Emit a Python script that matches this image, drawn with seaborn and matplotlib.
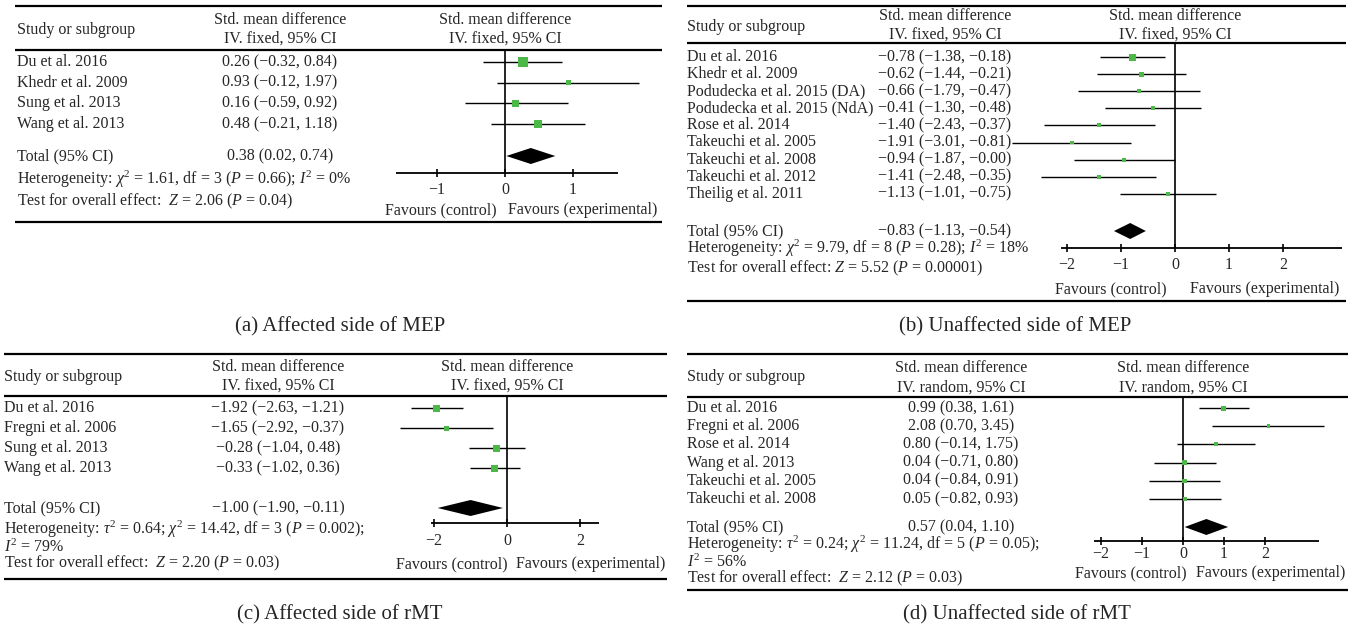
import matplotlib.pyplot as plt
import seaborn as sns

# ---------------- data ----------------
# (a) Affected side of MEP
studies_a = ["Du et al. 2016", "Khedr et al. 2009", "Sung et al. 2013", "Wang et al. 2013"]
est_a = [0.26, 0.93, 0.16, 0.48]
low_a = [-0.32, -0.12, -0.59, -0.21]
high_a = [0.84, 1.97, 0.92, 1.18]
ci_text_a = ["0.26 (\u22120.32, 0.84)", "0.93 (\u22120.12, 1.97)",
             "0.16 (\u22120.59, 0.92)", "0.48 (\u22120.21, 1.18)"]
total_a = [0.38, 0.02, 0.74]
total_text_a = "0.38 (0.02, 0.74)"
stats_a = [r"Heterogeneity: $\chi^2$ = 1.61, df = 3 ($P$ = 0.66); $I^2$ = 0%",
           r"Test for overall effect:  $Z$ = 2.06 ($P$ = 0.04)"]
ticks_a = [-1, 0, 1]

# (b) Unaffected side of MEP (values as drawn in the plot)
studies_b = ["Du et al. 2016", "Khedr et al. 2009", "Podudecka et al. 2015 (DA)",
             "Podudecka et al. 2015 (NdA)", "Rose et al. 2014", "Takeuchi et al. 2005",
             "Takeuchi et al. 2008", "Takeuchi et al. 2012", "Theilig et al. 2011"]
est_b = [-0.78, -0.62, -0.66, -0.41, -1.40, -1.91, -0.94, -1.41, -0.13]
low_b = [-1.38, -1.44, -1.79, -1.30, -2.43, -3.01, -1.87, -2.48, -1.01]
high_b = [-0.18, 0.21, 0.47, 0.48, -0.37, -0.81, 0.00, -0.35, 0.75]
ci_text_b = ["\u22120.78 (\u22121.38, \u22120.18)", "\u22120.62 (\u22121.44, \u22120.21)",
             "\u22120.66 (\u22121.79, \u22120.47)", "\u22120.41 (\u22121.30, \u22120.48)",
             "\u22121.40 (\u22122.43, \u22120.37)", "\u22121.91 (\u22123.01, \u22120.81)",
             "\u22120.94 (\u22121.87, \u22120.00)", "\u22121.41 (\u22122.48, \u22120.35)",
             "\u22121.13 (\u22121.01, \u22120.75)"]
total_b = [-0.83, -1.13, -0.54]
total_text_b = "\u22120.83 (\u22121.13, \u22120.54)"
stats_b = [r"Heterogeneity: $\chi^2$ = 9.79, df = 8 ($P$ = 0.28); $I^2$ = 18%",
           r"Test for overall effect: $Z$ = 5.52 ($P$ = 0.00001)"]
ticks_b = [-2, -1, 0, 1, 2]

# (c) Affected side of rMT
studies_c = ["Du et al. 2016", "Fregni et al. 2006", "Sung et al. 2013", "Wang et al. 2013"]
est_c = [-1.92, -1.65, -0.28, -0.33]
low_c = [-2.63, -2.92, -1.04, -1.02]
high_c = [-1.21, -0.37, 0.48, 0.36]
ci_text_c = ["\u22121.92 (\u22122.63, \u22121.21)", "\u22121.65 (\u22122.92, \u22120.37)",
             "\u22120.28 (\u22121.04, 0.48)", "\u22120.33 (\u22121.02, 0.36)"]
total_c = [-1.00, -1.90, -0.11]
total_text_c = "\u22121.00 (\u22121.90, \u22120.11)"
stats_c = [r"Heterogeneity: $\tau^2$ = 0.64; $\chi^2$ = 14.42, df = 3 ($P$ = 0.002);",
           r"$I^2$ = 79%",
           r"Test for overall effect:  $Z$ = 2.20 ($P$ = 0.03)"]
ticks_c = [-2, 0, 2]

# (d) Unaffected side of rMT
studies_d = ["Du et al. 2016", "Fregni et al. 2006", "Rose et al. 2014", "Wang et al. 2013",
             "Takeuchi et al. 2005", "Takeuchi et al. 2008"]
est_d = [0.99, 2.08, 0.80, 0.04, 0.04, 0.05]
low_d = [0.38, 0.70, -0.14, -0.71, -0.84, -0.82]
high_d = [1.61, 3.45, 1.75, 0.80, 0.91, 0.93]
ci_text_d = ["0.99 (0.38, 1.61)", "2.08 (0.70, 3.45)", "0.80 (\u22120.14, 1.75)",
             "0.04 (\u22120.71, 0.80)", "0.04 (\u22120.84, 0.91)", "0.05 (\u22120.82, 0.93)"]
total_d = [0.57, 0.04, 1.10]
total_text_d = "0.57 (0.04, 1.10)"
stats_d = [r"Heterogeneity: $\tau^2$ = 0.24; $\chi^2$ = 11.24, df = 5 ($P$ = 0.05);",
           r"$I^2$ = 56%",
           r"Test for overall effect:  $Z$ = 2.12 ($P$ = 0.03)"]
ticks_d = [-2, -1, 0, 1, 2]

captions = ["(a) Affected side of MEP", "(b) Unaffected side of MEP",
            "(c) Affected side of rMT", "(d) Unaffected side of rMT"]
methods = ["IV. fixed, 95% CI", "IV. fixed, 95% CI", "IV. fixed, 95% CI", "IV. random, 95% CI"]

# ---------------- layout (pixels) ----------------
W, H = 1348, 631
GREEN = "#4cb848"
FS = 11.5

panels = [
    dict(studies=studies_a, est=est_a, low=low_a, high=high_a, ci=ci_text_a, total=total_a,
         total_text=total_text_a, stats=stats_a, ticks=ticks_a, sq=[10, 5, 7, 8],
         x0=0, x1=674, left=15, right=662, top=6, head=50, bottom=222, xt=17, xc=280,
         zero=505, unit=68, axis=(-1.6, 1.66), axis_y=173, head_y=(20, 39), study_y=30,
         row0=62, step=20.7, total_y=156, stats_y=[179, 201], tick_y=190,
         fav_y=210, fav_x=(441, 583), cap=(340, 327)),
    dict(studies=studies_b, est=est_b, low=low_b, high=high_b, ci=ci_text_b, total=total_b,
         total_text=total_text_b, stats=stats_b, ticks=ticks_b, sq=[7, 5, 4, 4, 4, 3.5, 4, 4, 4],
         x0=674, x1=1348, left=687, right=1346, top=6, head=43, bottom=301, xt=687, xc=945,
         zero=1175, unit=54, axis=(-2.11, 3.09), axis_y=248, head_y=(16, 35), study_y=27,
         row0=57, step=17.1, total_y=231, stats_y=[248, 268], tick_y=265,
         fav_y=289, fav_x=(1111, 1265), cap=(1015, 327)),
    dict(studies=studies_c, est=est_c, low=low_c, high=high_c, ci=ci_text_c, total=total_c,
         total_text=total_text_c, stats=stats_c, ticks=ticks_c, sq=[7, 5, 7, 7],
         x0=0, x1=674, left=4, right=667, top=354, head=396, bottom=579, xt=4, xc=278,
         zero=507, unit=36.5, axis=(-2.08, 2.52), axis_y=523, head_y=(367, 386), study_y=377,
         row0=408, step=20, total_y=508, stats_y=[529, 547, 563], tick_y=541,
         fav_y=564, fav_x=(452, 591), cap=(340, 615)),
    dict(studies=studies_d, est=est_d, low=low_d, high=high_d, ci=ci_text_d, total=total_d,
         total_text=total_text_d, stats=stats_d, ticks=ticks_d, sq=[5, 3.5, 4, 5, 4.5, 4.5],
         x0=674, x1=1348, left=687, right=1348, top=354, head=397, bottom=590, xt=687, xc=961,
         zero=1183, unit=41, axis=(-2.17, 3.32), axis_y=541, head_y=(368, 388), study_y=377,
         row0=408, step=18.2, total_y=527, stats_y=[544, 562, 578], tick_y=554,
         fav_y=573, fav_x=(1131, 1271), cap=(1017, 615)),
]

sns.set_theme(style="white")
plt.rcParams['font.family'] = ['Liberation Serif', 'DejaVu Serif']
plt.rcParams['mathtext.fontset'] = 'custom'
plt.rcParams['mathtext.rm'] = 'Liberation Serif'
plt.rcParams['mathtext.it'] = 'Liberation Serif:italic'

fig = plt.figure(figsize=(W / 100, H / 100), dpi=100)
bg = fig.add_axes([0, 0, 1, 1])
bg.set_xlim(0, W)
bg.set_ylim(H, 0)
bg.axis('off')


def minus(v):
    return f"{v}".replace("-", "\u2212")


for p, cap, meth in zip(panels, captions, methods):
    # rules
    for y in (p['top'], p['head'], p['bottom']):
        bg.hlines(y, p['left'], p['right'], color='black', lw=1.6)

    # header
    bg.text(p['xt'], p['study_y'], "Study or subgroup", fontsize=FS, va='center')
    for xc in (p['xc'], p['zero']):
        bg.text(xc, p['head_y'][0], "Std. mean difference", fontsize=FS, ha='center', va='center')
        bg.text(xc, p['head_y'][1], meth, fontsize=FS, ha='center', va='center')

    rows = [p['row0'] + i * p['step'] for i in range(len(p['studies']))]
    for y, name, txt in zip(rows, p['studies'], p['ci']):
        bg.text(p['xt'], y, name, fontsize=FS, va='center')
        bg.text(p['xc'], y, txt, fontsize=FS, ha='center', va='center')
    bg.text(p['xt'], p['total_y'], "Total (95% CI)", fontsize=FS, va='center')
    bg.text(p['xc'], p['total_y'], p['total_text'], fontsize=FS, ha='center', va='center')
    for y, s in zip(p['stats_y'], p['stats']):
        bg.text(p['xt'], y, s, fontsize=FS, va='center')
    bg.text(p['fav_x'][0], p['fav_y'], "Favours (control)", fontsize=FS, ha='center', va='center')
    bg.text(p['fav_x'][1], p['fav_y'], "Favours (experimental)", fontsize=FS, ha='center', va='center')
    bg.text(p['cap'][0], p['cap'][1], cap, fontsize=15, ha='center', va='center')

    # forest axes, x in effect units, y in pixels
    ax = fig.add_axes([p['x0'] / W, 0, (p['x1'] - p['x0']) / W, 1])
    ax.set_xlim((p['x0'] - p['zero']) / p['unit'], (p['x1'] - p['zero']) / p['unit'])
    ax.set_ylim(H, 0)
    ax.axis('off')
    ax.patch.set_alpha(0)

    ax.vlines(0, p['head'], p['axis_y'], color='black', lw=1.2)
    ax.hlines(p['axis_y'], p['axis'][0], p['axis'][1], color='black', lw=1.3)
    ax.vlines(p['ticks'], p['axis_y'] - 4, p['axis_y'] + 4, color='black', lw=1.2)
    for t in p['ticks']:
        ax.text(t, p['tick_y'], minus(t), fontsize=FS, ha='center', va='center')

    ax.hlines(rows, p['low'], p['high'], color='black', lw=1.0)
    sns.scatterplot(x=p['est'], y=rows, marker='s', s=[(0.72 * q) ** 2 for q in p['sq']],
                    color=GREEN, edgecolor='none', linewidth=0, ax=ax, legend=False, zorder=3)

    est, lo, hi = p['total']
    ty = p['total_y']
    ax.fill([lo, est, hi, est], [ty, ty - 8, ty, ty + 8], color='black', lw=0)

fig.savefig("out.png", dpi=100)
